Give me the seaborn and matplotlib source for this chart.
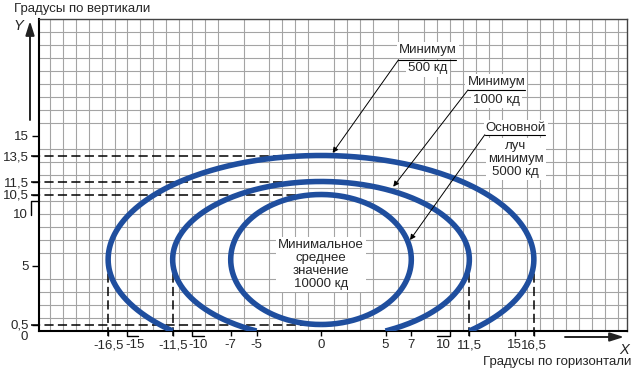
import numpy as np
import pandas as pd
import matplotlib.pyplot as plt
import seaborn as sns
from matplotlib.ticker import MultipleLocator

# curves (isocandela lines)
curve_names = ['500 кд', '1000 кд', '5000 кд']
half_width = [16.5, 11.5, 7.0]      # widest point, degrees
top_y = [13.5, 11.5, 10.5]          # highest point
center_y = [5.5, 5.5, 5.5]          # level of widest point
end_x = [11.5, 5.0, 0.0]            # where the curve ends at the bottom
end_y = [0.0, 0.0, 0.5]

x_ticks = [-16.5, -11.5, -7, -5, 0, 5, 7, 11.5, 15, 16.5]
x_labels = ['-16,5', '-11,5', '-7', '-5', '0', '5', '7', '11,5', '15', '16,5']
y_ticks = [0.5, 5, 10.5, 11.5, 13.5, 15]
y_labels = ['0,5', '5', '10,5', '11,5', '13,5', '15']

h_dashed = [0.5, 10.5, 11.5, 13.5]
v_dashed = [-16.5, -11.5, 11.5, 16.5]

blue = '#1f4e9e'

rows = []
for name, a, top, cy, xe, ye in zip(curve_names, half_width, top_y, center_y, end_x, end_y):
    t0 = np.arccos(xe / a)
    b_up = top - cy
    b_low = (cy - ye) / np.sin(t0)
    t = np.linspace(np.pi + t0, -t0, 500)
    b = np.where(np.sin(t) >= 0, b_up, b_low)
    for xi, yi in zip(a * np.cos(t), cy + b * np.sin(t)):
        rows.append({'curve': name, 'x': xi, 'y': yi})
df = pd.DataFrame(rows)

sns.set_theme(style='white')
plt.rcParams['font.family'] = ['Liberation Sans', 'DejaVu Sans']

fig = plt.figure(figsize=(6.34, 3.72), dpi=100)
ax = fig.add_axes([39 / 634, 41 / 372, 588 / 634, 312 / 372])

ax.set_xlim(-21.86, 23.72)
ax.set_ylim(0, 24)

# grid, one cell per degree
ax.xaxis.set_minor_locator(MultipleLocator(1))
ax.yaxis.set_minor_locator(MultipleLocator(1))
ax.grid(which='minor', color='#a4a4a4', lw=0.8)
ax.grid(which='major', visible=False)
ax.set_axisbelow(True)
ax.tick_params(which='minor', length=0)

# dashed helper lines
dash = dict(color='black', lw=1.1, linestyle=(0, (6, 2.8)), zorder=2, clip_on=False)
for yv in h_dashed:
    ax.plot([-22.45, 0], [yv, yv], **dash)
for xv in v_dashed:
    ax.plot([xv, xv], [5.5, -0.38], **dash)

sns.lineplot(data=df, x='x', y='y', units='curve', estimator=None, sort=False,
             color=blue, lw=4.0, ax=ax, zorder=3, solid_capstyle='butt')
ax.set_xlabel('')
ax.set_ylabel('')

# ticks
ax.set_xticks(x_ticks, x_labels)
ax.set_yticks(y_ticks, y_labels)
ax.tick_params(axis='x', which='major', direction='out', length=3.6, width=1,
               color='black', pad=2.5, labelsize=9.5, bottom=True)
ax.tick_params(axis='y', which='major', direction='out', length=5, width=1,
               color='black', pad=2.5, labelsize=9.5, left=True)

for s in ['left', 'bottom']:
    ax.spines[s].set_color('black')
    ax.spines[s].set_linewidth(1.5)
for s in ['top', 'right']:
    ax.spines[s].set_color('#444444')
    ax.spines[s].set_linewidth(1.0)

# shifted tick labels with small leaders
lead = dict(color='black', lw=1.0, clip_on=False)
for xv, foot, xlab in [(-15, -14.15, -14.4), (-10, -9.1, -9.5), (10, 9.0, 9.45)]:
    ax.plot([xv, xv, foot], [0, -0.38, -0.38], **lead)
    ax.text(xlab, -1.1, str(xv), ha='center', va='center', fontsize=9.5)
ax.plot([-22.45, -22.45, -21.86], [8.9, 10, 10], **lead)
ax.text(-22.75, 8.9, '10', ha='right', va='center', fontsize=9.5)
ax.text(-22.75, -0.45, '0', ha='right', va='center', fontsize=9.5)

# annotations
box = dict(facecolor='white', edgecolor='none', pad=1.5)
arrow = dict(arrowstyle='-|>', color='black', lw=0.7, shrinkA=0, shrinkB=0, mutation_scale=8)
notes = [
    ('Минимум', '500 кд', 8.3, 21.6, 20.2, 20.85, 6.0, 10.5, (0.9, 13.7)),
    ('Минимум', '1000 кд', 13.6, 19.15, 17.8, 18.55, 11.4, 15.8, (5.6, 11.1)),
    ('Основной', 'луч\nминимум\n5000 кд', 15.1, 15.6, 13.2, 15.1, 12.7, 17.4, (6.9, 7.0)),
]
for first, rest, xc, y1, y2, yu, xu0, xu1, tip in notes:
    ax.text(xc, y1, first, ha='center', va='center', fontsize=9.5, bbox=box, zorder=4)
    ax.text(xc, y2, rest, ha='center', va='center', fontsize=9.5, linespacing=1.1,
            bbox=box, zorder=4)
    ax.plot([xu0, xu1], [yu, yu], color='black', lw=0.8, zorder=5)
    ax.annotate('', xy=tip, xytext=(xu0, yu), arrowprops=arrow, zorder=5)

ax.text(0, 5.1, 'Минимальное\nсреднее\nзначение\n10000 кд', ha='center', va='center',
        fontsize=9.5, linespacing=1.1, bbox=box, zorder=4)

# axis arrows and titles
axis_arrow = dict(arrowstyle='-|>,head_length=0.7,head_width=0.22', color='#222222',
                  lw=1.4, shrinkA=0, shrinkB=0, mutation_scale=12)
ax.annotate('', xy=(30, 372 - 21), xytext=(30, 372 - 120), xycoords='figure pixels',
            textcoords='figure pixels', arrowprops=axis_arrow)
ax.annotate('', xy=(624, 372 - 337), xytext=(565, 372 - 337), xycoords='figure pixels',
            textcoords='figure pixels', arrowprops=axis_arrow)
fig.text(18 / 634, 1 - 26 / 372, 'Y', style='italic', fontsize=10.5, ha='center', va='center')
fig.text(624 / 634, 1 - 350 / 372, 'X', style='italic', fontsize=10.5, ha='center', va='center')
fig.text(14 / 634, 1 - 9 / 372, 'Градусы по вертикали', fontsize=9.5, ha='left', va='center')
fig.text(631 / 634, 1 - 362 / 372, 'Градусы по горизонтали', fontsize=9.5, ha='right', va='center')

fig.savefig('out.png', dpi=100)
